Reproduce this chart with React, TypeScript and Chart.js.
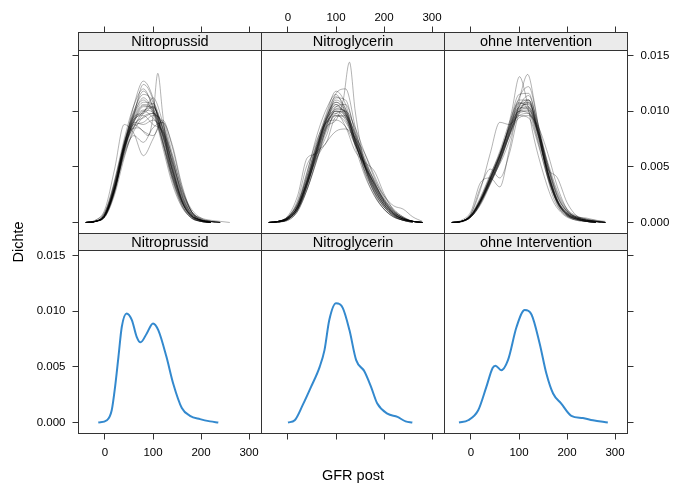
import React, { useEffect, useRef } from 'react';
import { Chart, registerables } from 'chart.js';

Chart.register(...registerables);

// ---------------- text ----------------
const PANEL_TITLES = ['Nitroprussid', 'Nitroglycerin', 'ohne Intervention'];
const X_AXIS_TITLE = 'GFR post';
const Y_AXIS_TITLE = 'Dichte';

// ---------------- ticks / ranges ----------------
const X_TICKS = [0, 100, 200, 300];
const Y_TICKS = [0, 0.005, 0.01, 0.015];
const X_MIN = -55.2;
const X_MAX = 326;
const Y_MIN = -0.00099;
const Y_PANEL_MAX = 0.01545;

// ---------------- observed densities (blue) ----------------
const OBS_NP_X = [-14, 4, 14, 21, 28, 35, 45, 56, 66, 74, 87, 100, 111, 128, 142, 160, 177, 198, 219, 236];
const OBS_NP_Y = [0, 0.0002, 0.0011, 0.0032, 0.0059, 0.0086, 0.0098, 0.0092, 0.0077, 0.0072, 0.008, 0.0089, 0.0083, 0.0059, 0.0035, 0.0013, 0.0006, 0.0003, 0.0001, 0];

const OBS_NG_X = [0, 14, 31, 48, 66, 76, 86, 100, 114, 128, 142, 159, 173, 186, 207, 228, 245, 259];
const OBS_NG_Y = [0, 0.0002, 0.0016, 0.0032, 0.005, 0.0065, 0.0092, 0.0107, 0.0103, 0.0083, 0.0056, 0.0046, 0.0032, 0.0017, 0.0008, 0.0005, 0.0001, 0];

const OBS_OI_X = [-25, -6, 15, 32, 45, 51, 63, 77, 95, 112, 126, 143, 157, 171, 188, 209, 233, 254, 285];
const OBS_OI_Y = [0, 0.0002, 0.0011, 0.0032, 0.0049, 0.0051, 0.0047, 0.0056, 0.0086, 0.0101, 0.0097, 0.0071, 0.0044, 0.0026, 0.0017, 0.0006, 0.0004, 0.0002, 0];

// ---------------- imputed densities (gray) ----------------
const GRID_X = [-40, -20, 0, 20, 40, 60, 80, 100, 120, 140, 160, 180, 200, 220, 240, 260, 280];

const IMP_NP_1 = [0, 0.0001, 0.0006, 0.003, 0.0065, 0.0092, 0.0105, 0.01, 0.0078, 0.0048, 0.0022, 0.0007, 0.0002, 0.0001, 0, 0, 0];
const IMP_NP_2 = [0, 0.0001, 0.0008, 0.0035, 0.0072, 0.0098, 0.011, 0.0098, 0.0072, 0.0042, 0.0018, 0.0006, 0.0002, 0, 0, 0, 0];
const IMP_NP_3 = [0, 0.0001, 0.0005, 0.0025, 0.0058, 0.0085, 0.01, 0.0103, 0.0085, 0.0055, 0.0027, 0.001, 0.0003, 0.0001, 0, 0, 0];
const IMP_NP_4 = [0, 0.0002, 0.001, 0.0038, 0.0075, 0.0105, 0.012, 0.0102, 0.0068, 0.0035, 0.0014, 0.0004, 0.0001, 0, 0, 0, 0];
const IMP_NP_5 = [0, 0.0001, 0.0006, 0.0028, 0.0068, 0.009, 0.0088, 0.0092, 0.0082, 0.0052, 0.0024, 0.0008, 0.0002, 0.0001, 0, 0, 0];
const IMP_NP_6 = [0, 0.0001, 0.0007, 0.0032, 0.007, 0.0095, 0.0098, 0.0104, 0.0085, 0.005, 0.002, 0.0006, 0.0002, 0, 0, 0, 0];
const IMP_NP_7 = [0, 0.0001, 0.0005, 0.0027, 0.0062, 0.0078, 0.0072, 0.0085, 0.009, 0.0062, 0.003, 0.0012, 0.0004, 0.0001, 0, 0, 0];
const IMP_NP_8 = [0, 0.0001, 0.0007, 0.0033, 0.0072, 0.01, 0.0115, 0.0108, 0.0078, 0.0042, 0.0016, 0.0005, 0.0001, 0, 0, 0, 0];
const IMP_NP_9 = [0, 0.0001, 0.0006, 0.003, 0.006, 0.0082, 0.0095, 0.0098, 0.0088, 0.0058, 0.0026, 0.0009, 0.0004, 0.0002, 0.0001, 0, 0];
const IMP_NP_10 = [0, 0.0001, 0.0009, 0.0036, 0.0068, 0.0086, 0.0098, 0.0112, 0.009, 0.0052, 0.002, 0.0005, 0.0001, 0, 0, 0, 0];
const IMP_NP_11 = [0, 0.0001, 0.0006, 0.0029, 0.0066, 0.0088, 0.0082, 0.0078, 0.009, 0.007, 0.0034, 0.001, 0.0002, 0, 0, 0, 0];
const IMP_NP_12 = [0, 0.0001, 0.0008, 0.0034, 0.007, 0.0096, 0.0108, 0.0106, 0.008, 0.0046, 0.0019, 0.0006, 0.0002, 0.0001, 0, 0, 0];
const IMP_NP_13 = [0, 0.0001, 0.0006, 0.0028, 0.0064, 0.0096, 0.0124, 0.011, 0.0072, 0.0038, 0.0015, 0.0004, 0.0001, 0, 0, 0, 0];
const IMP_NP_14 = [0, 0.0001, 0.0007, 0.0031, 0.0066, 0.009, 0.01, 0.0094, 0.008, 0.0055, 0.0028, 0.001, 0.0003, 0.0001, 0, 0, 0];
const IMP_NP_15 = [0, 0.0002, 0.0012, 0.0048, 0.0088, 0.008, 0.006, 0.0075, 0.0092, 0.0068, 0.0032, 0.001, 0.0003, 0, 0, 0, 0];
const IMP_NP_16 = [0, 0.0001, 0.0007, 0.003, 0.0068, 0.0105, 0.0127, 0.0112, 0.0075, 0.004, 0.0016, 0.0004, 0.0001, 0, 0, 0, 0];
const IMP_NP_17 = [0, 0.0001, 0.0007, 0.0031, 0.0069, 0.0093, 0.0096, 0.0088, 0.0082, 0.006, 0.003, 0.001, 0.0002, 0, 0, 0, 0];
const IMP_NP_18 = [0, 0.0001, 0.0007, 0.0032, 0.0068, 0.0094, 0.0106, 0.0102, 0.0079, 0.0046, 0.002, 0.0006, 0.0002, 0, 0, 0, 0];
const IMP_NP_19 = [0, 0.0001, 0.0006, 0.0029, 0.0064, 0.009, 0.0104, 0.0104, 0.0082, 0.0049, 0.0022, 0.0007, 0.0002, 0, 0, 0, 0];
const IMP_NP_20 = [0, 0.0001, 0.0007, 0.0031, 0.0067, 0.0097, 0.0112, 0.01, 0.0074, 0.0044, 0.002, 0.0006, 0.0001, 0, 0, 0, 0];
const IMP_NP_21 = [0, 0.0001, 0.0006, 0.003, 0.0066, 0.0088, 0.0094, 0.0098, 0.0086, 0.0054, 0.0024, 0.0008, 0.0002, 0, 0, 0, 0];
const IMP_NP_22 = [0, 0.0001, 0.0008, 0.0033, 0.0069, 0.0092, 0.0101, 0.0099, 0.008, 0.0048, 0.0021, 0.0007, 0.0002, 0.0001, 0, 0, 0];
const IMP_NP_23 = [0, 0.0001, 0.0006, 0.0028, 0.0063, 0.0086, 0.009, 0.0096, 0.009, 0.0058, 0.0025, 0.0008, 0.0002, 0, 0, 0, 0];
const IMP_NP_24 = [0, 0.0001, 0.0007, 0.0032, 0.007, 0.0099, 0.0118, 0.0104, 0.0072, 0.004, 0.0018, 0.0005, 0.0001, 0, 0, 0, 0];
const IMP_NP_25 = [0, 0.0001, 0.0007, 0.003, 0.0066, 0.0091, 0.0099, 0.0107, 0.0084, 0.0047, 0.0019, 0.0006, 0.0002, 0, 0, 0, 0];
const IMP_NP_SPIKE_X = [-30, -10, 10, 30, 50, 70, 90, 100, 110, 120, 130, 150, 170, 190, 210, 230];
const IMP_NP_SPIKE_Y = [0, 0.0003, 0.002, 0.0055, 0.0082, 0.0085, 0.0078, 0.0095, 0.0134, 0.0098, 0.0062, 0.003, 0.001, 0.0003, 0.0001, 0];

const IMP_NG_1 = [0, 0.00005, 0.0003, 0.0011, 0.0033, 0.0062, 0.0088, 0.01, 0.0095, 0.0075, 0.0052, 0.0033, 0.0018, 0.0009, 0.0004, 0.0001, 0];
const IMP_NG_2 = [0, 0.0001, 0.0005, 0.0016, 0.004, 0.007, 0.0095, 0.0108, 0.0098, 0.0072, 0.0046, 0.0027, 0.0014, 0.0006, 0.0002, 0.0001, 0];
const IMP_NG_3 = [0, 0.00005, 0.0003, 0.0012, 0.003, 0.0056, 0.0082, 0.0098, 0.01, 0.0085, 0.0062, 0.004, 0.0022, 0.001, 0.0004, 0.0001, 0];
const IMP_NG_4 = [0, 0.0001, 0.0004, 0.0015, 0.0045, 0.0078, 0.0102, 0.0115, 0.0098, 0.0068, 0.0042, 0.0024, 0.0012, 0.0005, 0.0002, 0, 0];
const IMP_NG_5 = [0, 0.0001, 0.0005, 0.002, 0.0052, 0.0064, 0.0072, 0.0095, 0.0096, 0.007, 0.005, 0.0035, 0.0019, 0.0008, 0.0003, 0.0001, 0];
const IMP_NG_6 = [0, 0.00005, 0.0003, 0.0012, 0.0034, 0.006, 0.0085, 0.0104, 0.0106, 0.0082, 0.0055, 0.0034, 0.0018, 0.0008, 0.0003, 0.0001, 0];
const IMP_NG_7 = [0, 0.0001, 0.0004, 0.0014, 0.0038, 0.0066, 0.009, 0.0098, 0.0086, 0.0064, 0.0054, 0.0046, 0.0026, 0.0011, 0.0004, 0.0001, 0];
const IMP_NG_8 = [0, 0.00005, 0.0002, 0.001, 0.003, 0.0058, 0.0084, 0.0096, 0.009, 0.0072, 0.0054, 0.0038, 0.0024, 0.0015, 0.0012, 0.0005, 0.0001];
const IMP_NG_9 = [0, 0.0001, 0.0005, 0.0017, 0.0042, 0.0072, 0.0098, 0.0118, 0.0106, 0.0074, 0.0044, 0.0024, 0.0012, 0.0005, 0.0002, 0, 0];
const IMP_NG_10 = [0, 0.00005, 0.0003, 0.0012, 0.0036, 0.0058, 0.0072, 0.0082, 0.0084, 0.0076, 0.0062, 0.0042, 0.0024, 0.0012, 0.0005, 0.0001, 0];
const IMP_NG_11 = [0, 0.0001, 0.0004, 0.0014, 0.0038, 0.0068, 0.0094, 0.011, 0.0102, 0.0078, 0.005, 0.0028, 0.0014, 0.0006, 0.0002, 0.0001, 0];
const IMP_NG_12 = [0, 0.00005, 0.0003, 0.0012, 0.0034, 0.0064, 0.0092, 0.0106, 0.0094, 0.007, 0.0052, 0.0036, 0.002, 0.001, 0.0004, 0.0001, 0];
const IMP_NG_13 = [0, 0.0001, 0.0005, 0.0018, 0.0046, 0.0074, 0.009, 0.0092, 0.0086, 0.007, 0.0052, 0.0034, 0.002, 0.001, 0.0004, 0.0001, 0];
const IMP_NG_14 = [0, 0.00005, 0.0002, 0.001, 0.003, 0.0056, 0.0086, 0.0112, 0.011, 0.008, 0.005, 0.003, 0.0016, 0.0008, 0.0003, 0.0001, 0];
const IMP_NG_15 = [0, 0.0001, 0.0004, 0.0014, 0.0036, 0.0064, 0.0092, 0.0116, 0.012, 0.0086, 0.005, 0.0026, 0.0012, 0.0005, 0.0002, 0, 0];
const IMP_NG_16 = [0, 0.0001, 0.0006, 0.0024, 0.0058, 0.0062, 0.0078, 0.0102, 0.01, 0.0074, 0.005, 0.0032, 0.0018, 0.0008, 0.0003, 0.0001, 0];
const IMP_NG_17 = [0, 0.0001, 0.0004, 0.0014, 0.0036, 0.0065, 0.0091, 0.0104, 0.0098, 0.0075, 0.0051, 0.0031, 0.0016, 0.0007, 0.0003, 0.0001, 0];
const IMP_NG_18 = [0, 0.0001, 0.0004, 0.0015, 0.0038, 0.0067, 0.0094, 0.0108, 0.01, 0.0073, 0.0048, 0.0029, 0.0015, 0.0007, 0.0003, 0.0001, 0];
const IMP_NG_19 = [0, 0.00005, 0.0003, 0.0013, 0.0035, 0.0063, 0.0089, 0.0102, 0.0099, 0.0078, 0.0054, 0.0033, 0.0017, 0.0008, 0.0003, 0.0001, 0];
const IMP_NG_20 = [0, 0.0001, 0.0004, 0.0015, 0.0039, 0.0068, 0.0093, 0.01, 0.0092, 0.0074, 0.0056, 0.0037, 0.002, 0.0009, 0.0003, 0.0001, 0];
const IMP_NG_21 = [0, 0.0001, 0.0004, 0.0014, 0.0037, 0.0066, 0.0096, 0.0113, 0.0102, 0.0072, 0.0046, 0.0027, 0.0014, 0.0006, 0.0002, 0.0001, 0];
const IMP_NG_22 = [0, 0.00005, 0.0003, 0.0012, 0.0033, 0.0061, 0.0087, 0.01, 0.0097, 0.008, 0.0058, 0.0036, 0.0019, 0.0009, 0.0004, 0.0001, 0];
const IMP_NG_23 = [0, 0.0001, 0.0005, 0.0017, 0.0042, 0.007, 0.009, 0.0096, 0.0094, 0.0076, 0.0052, 0.0031, 0.0016, 0.0007, 0.0003, 0.0001, 0];
const IMP_NG_24 = [0, 0.0001, 0.0004, 0.0014, 0.0037, 0.0066, 0.0092, 0.0106, 0.0096, 0.007, 0.005, 0.0035, 0.0021, 0.0011, 0.0005, 0.0001, 0];
const IMP_NG_SPIKE_X = [-20, 0, 20, 40, 60, 80, 100, 115, 128, 140, 160, 180, 200, 220, 240, 260];
const IMP_NG_SPIKE_Y = [0, 0.0003, 0.0012, 0.0034, 0.0062, 0.0086, 0.0092, 0.011, 0.0144, 0.01, 0.0052, 0.003, 0.0016, 0.0007, 0.0002, 0];

const IMP_OI_1 = [0, 0.0001, 0.0006, 0.0019, 0.0038, 0.0058, 0.0082, 0.0102, 0.0104, 0.008, 0.0046, 0.002, 0.0008, 0.0004, 0.0002, 0.0001, 0];
const IMP_OI_2 = [0, 0.0001, 0.0007, 0.0022, 0.0042, 0.0064, 0.009, 0.0108, 0.01, 0.0072, 0.004, 0.0018, 0.0007, 0.0003, 0.0001, 0, 0];
const IMP_OI_3 = [0, 0.0001, 0.0005, 0.0017, 0.0035, 0.0054, 0.0078, 0.01, 0.011, 0.0088, 0.0052, 0.0024, 0.001, 0.0004, 0.0002, 0.0001, 0];
const IMP_OI_4 = [0, 0.0001, 0.0006, 0.002, 0.004, 0.006, 0.0088, 0.0115, 0.0116, 0.0082, 0.0042, 0.0017, 0.0006, 0.0002, 0.0001, 0, 0];
const IMP_OI_5 = [0, 0.0001, 0.0008, 0.0032, 0.0048, 0.004, 0.0062, 0.0098, 0.0108, 0.008, 0.0044, 0.0019, 0.0008, 0.0004, 0.0002, 0.0001, 0];
const IMP_OI_6 = [0, 0.0001, 0.0006, 0.0019, 0.0036, 0.0056, 0.008, 0.0096, 0.0098, 0.0082, 0.0054, 0.0028, 0.0012, 0.0006, 0.0003, 0.0001, 0];
const IMP_OI_7 = [0, 0.0001, 0.0008, 0.003, 0.0062, 0.009, 0.0088, 0.0096, 0.0094, 0.007, 0.004, 0.0018, 0.0007, 0.0003, 0.0001, 0, 0];
const IMP_OI_8 = [0, 0.0001, 0.0005, 0.0016, 0.0034, 0.0054, 0.0078, 0.0098, 0.01, 0.0074, 0.0048, 0.004, 0.0018, 0.0006, 0.0002, 0.0001, 0];
const IMP_OI_9 = [0, 0.0001, 0.0007, 0.0021, 0.004, 0.0062, 0.0086, 0.0106, 0.0108, 0.0084, 0.0046, 0.002, 0.0009, 0.0005, 0.0004, 0.0002, 0];
const IMP_OI_10 = [0, 0.0002, 0.001, 0.0036, 0.004, 0.0032, 0.0066, 0.0104, 0.011, 0.0078, 0.0042, 0.0018, 0.0007, 0.0003, 0.0001, 0, 0];
const IMP_OI_11 = [0, 0.0001, 0.0005, 0.0018, 0.0038, 0.006, 0.0084, 0.01, 0.0098, 0.008, 0.005, 0.0024, 0.001, 0.0005, 0.0003, 0.0002, 0.0001];
const IMP_OI_12 = [0, 0.0001, 0.0006, 0.002, 0.0039, 0.0058, 0.0082, 0.0112, 0.0122, 0.0088, 0.0044, 0.0016, 0.0006, 0.0002, 0.0001, 0, 0];
const IMP_OI_13 = [0, 0.0001, 0.0006, 0.002, 0.0036, 0.0056, 0.0078, 0.0094, 0.0096, 0.0086, 0.0062, 0.0032, 0.0012, 0.0004, 0.0001, 0, 0];
const IMP_OI_14 = [0, 0.0001, 0.0006, 0.0019, 0.0038, 0.0059, 0.0084, 0.0104, 0.0106, 0.008, 0.0045, 0.0019, 0.0008, 0.0004, 0.0002, 0.0001, 0];
const IMP_OI_15 = [0, 0.0001, 0.0006, 0.002, 0.0039, 0.006, 0.0086, 0.0107, 0.0104, 0.0077, 0.0044, 0.0019, 0.0008, 0.0003, 0.0001, 0, 0];
const IMP_OI_16 = [0, 0.0001, 0.0005, 0.0018, 0.0037, 0.0057, 0.0081, 0.0101, 0.0107, 0.0084, 0.0049, 0.0021, 0.0009, 0.0004, 0.0002, 0.0001, 0];
const IMP_OI_17 = [0, 0.0001, 0.0006, 0.002, 0.004, 0.0061, 0.0087, 0.011, 0.011, 0.008, 0.0043, 0.0018, 0.0007, 0.0003, 0.0001, 0, 0];
const IMP_OI_18 = [0, 0.0001, 0.0006, 0.0019, 0.0037, 0.0056, 0.008, 0.0099, 0.0103, 0.0083, 0.005, 0.0023, 0.001, 0.0005, 0.0003, 0.0001, 0];
const IMP_OI_19 = [0, 0.0001, 0.0007, 0.0023, 0.0043, 0.0062, 0.0085, 0.0103, 0.0102, 0.0078, 0.0045, 0.002, 0.0008, 0.0004, 0.0002, 0.0001, 0];
const IMP_OI_20 = [0, 0.0001, 0.0005, 0.0018, 0.0036, 0.0055, 0.0079, 0.0104, 0.0114, 0.0086, 0.0046, 0.0019, 0.0007, 0.0003, 0.0001, 0, 0];
const IMP_OI_21 = [0, 0.0001, 0.0006, 0.0021, 0.0041, 0.006, 0.0083, 0.01, 0.0101, 0.0082, 0.0052, 0.0026, 0.0011, 0.0005, 0.0002, 0.0001, 0];
const IMP_OI_TALL1_X = [-30, -10, 10, 30, 50, 70, 85, 101, 115, 130, 150, 170, 190, 210, 230, 250, 270];
const IMP_OI_TALL1_Y = [0, 0.0002, 0.0012, 0.003, 0.005, 0.0072, 0.01, 0.0131, 0.0112, 0.0078, 0.0045, 0.002, 0.0008, 0.0003, 0.0002, 0.0001, 0];
const IMP_OI_TALL2_X = [-30, -10, 10, 30, 50, 70, 90, 105, 118, 132, 150, 170, 190, 210, 230, 250, 270];
const IMP_OI_TALL2_Y = [0, 0.0002, 0.001, 0.0026, 0.0044, 0.0062, 0.0088, 0.0118, 0.0133, 0.0108, 0.006, 0.0024, 0.0009, 0.0004, 0.0003, 0.0001, 0];

// ---------------- tables built from the arrays ----------------
const grid = (ys: number[]) => ({ xs: GRID_X, ys });
const NP_IMPUTED = [
  IMP_NP_1, IMP_NP_2, IMP_NP_3, IMP_NP_4, IMP_NP_5, IMP_NP_6, IMP_NP_7, IMP_NP_8, IMP_NP_9,
  IMP_NP_10, IMP_NP_11, IMP_NP_12, IMP_NP_13, IMP_NP_14, IMP_NP_15, IMP_NP_16, IMP_NP_17,
  IMP_NP_18, IMP_NP_19, IMP_NP_20, IMP_NP_21, IMP_NP_22, IMP_NP_23, IMP_NP_24, IMP_NP_25,
].map(grid).concat([{ xs: IMP_NP_SPIKE_X, ys: IMP_NP_SPIKE_Y }]);
const NG_IMPUTED = [
  IMP_NG_1, IMP_NG_2, IMP_NG_3, IMP_NG_4, IMP_NG_5, IMP_NG_6, IMP_NG_7, IMP_NG_8, IMP_NG_9,
  IMP_NG_10, IMP_NG_11, IMP_NG_12, IMP_NG_13, IMP_NG_14, IMP_NG_15, IMP_NG_16, IMP_NG_17,
  IMP_NG_18, IMP_NG_19, IMP_NG_20, IMP_NG_21, IMP_NG_22, IMP_NG_23, IMP_NG_24,
].map(grid).concat([{ xs: IMP_NG_SPIKE_X, ys: IMP_NG_SPIKE_Y }]);
const OI_IMPUTED = [
  IMP_OI_1, IMP_OI_2, IMP_OI_3, IMP_OI_4, IMP_OI_5, IMP_OI_6, IMP_OI_7, IMP_OI_8, IMP_OI_9,
  IMP_OI_10, IMP_OI_11, IMP_OI_12, IMP_OI_13, IMP_OI_14, IMP_OI_15, IMP_OI_16, IMP_OI_17,
  IMP_OI_18, IMP_OI_19, IMP_OI_20, IMP_OI_21,
].map(grid).concat([
  { xs: IMP_OI_TALL1_X, ys: IMP_OI_TALL1_Y },
  { xs: IMP_OI_TALL2_X, ys: IMP_OI_TALL2_Y },
]);

// ---------------- layout / style ----------------
const W = 683;
const H = 484;
const COL_EDGES = [78.5, 261.5, 444.5, 627.5];
const ROWS = [
  { stripTop: 32.5, panelTop: 50.5, bottom: 233.5 },
  { stripTop: 233.5, panelTop: 250.5, bottom: 433.5 },
];
const AXIS_H = 30;
const AXIS_W = 55;
const TICK_LEN = 6;
const LINE_COLOR = '#333333';
const STRIP_BG = '#ebebeb';
const FONT_FAMILY = '"Liberation Sans", Arial, Helvetica, sans-serif';
const TICK_FONT_SIZE = 11.5;
const TEXT_FONT_SIZE = 14.5;
const GRAY_LINE = 'rgba(0,0,0,0.3)';
const BLUE_LINE = 'rgba(0,108,194,0.8)';

const PANELS = [
  { title: PANEL_TITLES[0], col: 0, row: 0, curves: NP_IMPUTED, observed: false, xPos: 'top', xLabels: false, yPos: 'left', yShow: true, yLabels: false },
  { title: PANEL_TITLES[1], col: 1, row: 0, curves: NG_IMPUTED, observed: false, xPos: 'top', xLabels: true, yPos: 'left', yShow: false, yLabels: false },
  { title: PANEL_TITLES[2], col: 2, row: 0, curves: OI_IMPUTED, observed: false, xPos: 'top', xLabels: false, yPos: 'right', yShow: true, yLabels: true },
  { title: PANEL_TITLES[0], col: 0, row: 1, curves: [{ xs: OBS_NP_X, ys: OBS_NP_Y }], observed: true, xPos: 'bottom', xLabels: true, yPos: 'left', yShow: true, yLabels: true },
  { title: PANEL_TITLES[1], col: 1, row: 1, curves: [{ xs: OBS_NG_X, ys: OBS_NG_Y }], observed: true, xPos: 'bottom', xLabels: false, yPos: 'left', yShow: false, yLabels: false },
  { title: PANEL_TITLES[2], col: 2, row: 1, curves: [{ xs: OBS_OI_X, ys: OBS_OI_Y }], observed: true, xPos: 'bottom', xLabels: true, yPos: 'right', yShow: true, yLabels: false },
];

function toPoints(xs: number[], ys: number[]) {
  let s = 0;
  while (s < ys.length - 1 && ys[s + 1] === 0 && ys[s] === 0) s++;
  let e = ys.length - 1;
  while (e > 0 && ys[e - 1] === 0 && ys[e] === 0) e--;
  const pts = [];
  for (let i = s; i <= e; i++) pts.push({ x: xs[i], y: ys[i] });
  return pts;
}

function buildConfig(p: any, withTitles: boolean) {
  const left = COL_EDGES[p.col];
  const right = COL_EDGES[p.col + 1];
  const row = ROWS[p.row];
  const stripH = row.panelTop - row.stripTop;
  const panelH = row.bottom - row.panelTop;
  const yMax = Y_PANEL_MAX + (stripH * (Y_PANEL_MAX - Y_MIN)) / panelH;
  const yW = p.yShow ? AXIS_W : 0;

  const padding = {
    left: p.yPos === 'left' ? left - yW : left,
    right: p.yPos === 'right' ? W - right - yW : W - right,
    top: p.xPos === 'top' ? row.stripTop - AXIS_H : row.stripTop,
    bottom: p.xPos === 'bottom' ? H - row.bottom - AXIS_H : H - row.bottom,
  };

  const datasets = p.curves.map((c: any) => ({
    data: toPoints(c.xs, c.ys),
    borderColor: p.observed ? BLUE_LINE : GRAY_LINE,
    borderWidth: p.observed ? 2 : 1,
    pointRadius: 0,
    fill: false,
    cubicInterpolationMode: 'monotone',
    tension: 0.4,
  }));

  const framePlugin = {
    id: 'latticeFrame' + p.col + p.row,
    afterDraw(chart: any) {
      const ctx = chart.ctx;
      const a = chart.chartArea;
      const stripBottom = a.top + stripH;
      ctx.save();
      ctx.fillStyle = STRIP_BG;
      ctx.fillRect(a.left, a.top, a.right - a.left, stripH);
      ctx.strokeStyle = LINE_COLOR;
      ctx.lineWidth = 1;
      ctx.strokeRect(a.left, a.top, a.right - a.left, stripH);
      ctx.strokeRect(a.left, stripBottom, a.right - a.left, a.bottom - stripBottom);
      ctx.fillStyle = '#000';
      ctx.font = `${TEXT_FONT_SIZE}px ${FONT_FAMILY}`;
      ctx.textAlign = 'center';
      ctx.textBaseline = 'middle';
      ctx.fillText(p.title, (a.left + a.right) / 2, a.top + stripH / 2 + 0.5);
      if (withTitles) {
        ctx.fillText(X_AXIS_TITLE, (COL_EDGES[0] + COL_EDGES[3]) / 2, 476);
        ctx.translate(19, 242);
        ctx.rotate(-Math.PI / 2);
        ctx.fillText(Y_AXIS_TITLE, 0, 0);
      }
      ctx.restore();
    },
  };

  const tickFont = { family: FONT_FAMILY, size: TICK_FONT_SIZE };

  return {
    type: 'line',
    data: { datasets },
    options: {
      animation: false,
      responsive: false,
      devicePixelRatio: 1,
      events: [],
      parsing: false,
      normalized: true,
      layout: { autoPadding: false, padding },
      plugins: { legend: { display: false }, tooltip: { enabled: false }, title: { display: false } },
      scales: {
        x: {
          type: 'linear',
          position: p.xPos,
          min: X_MIN,
          max: X_MAX,
          afterFit: (s: any) => { s.height = AXIS_H; },
          afterBuildTicks: (s: any) => { s.ticks = X_TICKS.map((v) => ({ value: v })); },
          grid: { display: true, drawOnChartArea: false, drawTicks: true, tickLength: TICK_LEN, color: LINE_COLOR, lineWidth: 1 },
          border: { display: false },
          ticks: {
            display: p.xLabels,
            padding: p.xPos === 'top' ? 2 : 6,
            font: tickFont,
            color: '#000',
            maxRotation: 0,
            autoSkip: false,
            callback: (v: any) => String(v),
          },
        },
        y: {
          type: 'linear',
          display: p.yShow,
          position: p.yPos,
          min: Y_MIN,
          max: yMax,
          afterFit: (s: any) => { s.width = yW; },
          afterBuildTicks: (s: any) => { s.ticks = Y_TICKS.map((v) => ({ value: v })); },
          grid: { display: true, drawOnChartArea: false, drawTicks: true, tickLength: TICK_LEN, color: LINE_COLOR, lineWidth: 1 },
          border: { display: false },
          ticks: {
            display: p.yLabels,
            padding: 7,
            font: tickFont,
            color: '#000',
            autoSkip: false,
            callback: (v: any) => Number(v).toFixed(3),
          },
        },
      },
    },
    plugins: [framePlugin],
  };
}

export default function App() {
  const refs = useRef<(HTMLCanvasElement | null)[]>([]);

  useEffect(() => {
    const charts = PANELS.map((p, i) => new Chart(refs.current[i] as HTMLCanvasElement, buildConfig(p, i === 3) as any));
    return () => charts.forEach((c) => c.destroy());
  }, []);

  return (
    <div style={{ position: 'fixed', left: 0, top: 0, width: W, height: H, background: '#fff' }}>
      {PANELS.map((p, i) => (
        <canvas
          key={i}
          ref={(el) => { refs.current[i] = el; }}
          width={W}
          height={H}
          style={{ position: 'absolute', left: 0, top: 0, width: W, height: H }}
        />
      ))}
    </div>
  );
}
